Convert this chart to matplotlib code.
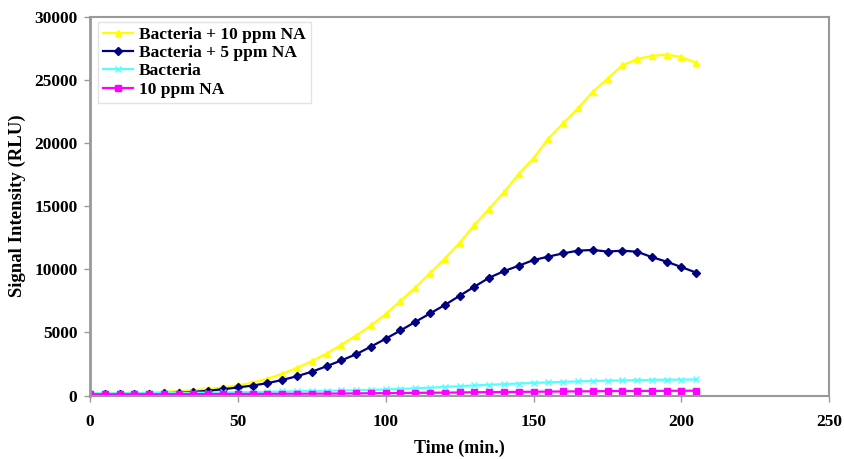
import matplotlib.pyplot as plt
import numpy as np

time_min = np.arange(0, 210, 5)

bacteria_10ppm = [150, 160, 180, 200, 240, 290, 360, 430, 520, 650, 800, 1030, 1330,
                  1720, 2200, 2720, 3320, 4020, 4750, 5550, 6450, 7500, 8550, 9700,
                  10850, 12100, 13500, 14800, 16100, 17550, 18800, 20350, 21550, 22750,
                  24050, 25100, 26150, 26650, 26900, 27000, 26800, 26350]
bacteria_5ppm = [100, 110, 120, 130, 150, 180, 220, 290, 380, 500, 640, 790, 980,
                 1230, 1530, 1880, 2320, 2780, 3270, 3870, 4500, 5150, 5830, 6500,
                 7170, 7900, 8620, 9330, 9850, 10280, 10730, 11000, 11260, 11470,
                 11530, 11400, 11470, 11390, 10960, 10600, 10170, 9730]
bacteria = [170, 170, 180, 180, 190, 200, 210, 220, 230, 240, 260, 280, 300, 320,
            340, 360, 380, 400, 420, 450, 480, 520, 570, 620, 680, 740, 800, 850,
            900, 950, 1000, 1040, 1080, 1120, 1150, 1180, 1200, 1220, 1240, 1250,
            1260, 1270]
na_10ppm = [100, 100, 100, 100, 100, 100, 110, 110, 110, 120, 120, 130, 130, 140,
            140, 150, 150, 160, 170, 180, 190, 200, 210, 220, 230, 240, 260, 270,
            280, 290, 300, 310, 320, 330, 340, 350, 360, 360, 370, 370, 380, 380]

series_labels = ['Bacteria + 10 ppm NA', 'Bacteria + 5 ppm NA', 'Bacteria', '10 ppm NA']

fig = plt.figure(figsize=(8.44, 4.59), dpi=100)
ax = fig.add_axes([0.1066, 0.1383, 0.876, 0.8253])

font = dict(family='Liberation Serif', weight='bold')

ax.plot(time_min, bacteria_10ppm, color='#ffff00', marker='^', markersize=5,
        linewidth=1.6, label=series_labels[0])
ax.plot(time_min, bacteria_5ppm, color='#000080', marker='D', markersize=4,
        linewidth=1.6, label=series_labels[1])
ax.plot(time_min, bacteria, color='#55ffff', marker='x', markersize=4,
        markeredgewidth=1, linewidth=1.6, label=series_labels[2])
ax.plot(time_min, na_10ppm, color='#ff00ff', marker='s', markersize=4.5,
        linewidth=1.6, label=series_labels[3])

ax.set_xlim(0, 250)
ax.set_ylim(0, 30000)
ax.set_xticks(np.arange(0, 251, 50))
ax.set_yticks(np.arange(0, 30001, 5000))

for side in ['left', 'bottom', 'top', 'right']:
    ax.spines[side].set_color('#999999')
ax.spines['left'].set_linewidth(2)
ax.spines['bottom'].set_linewidth(1.5)
ax.spines['top'].set_linewidth(1.5)
ax.spines['right'].set_linewidth(1.5)
ax.tick_params(axis='both', colors='#999999', length=4, width=1, labelcolor='black')
ax.tick_params(axis='x', pad=9)
ax.tick_params(axis='y', pad=5)

for lbl in ax.get_xticklabels() + ax.get_yticklabels():
    lbl.set_fontfamily('Liberation Serif')
    lbl.set_fontweight('bold')
    lbl.set_fontsize(12.5)

ax.set_xlabel('Time (min.)', fontsize=13, labelpad=7, **font)
ax.set_ylabel('Signal Intensity (RLU)', fontsize=13.5, labelpad=6, **font)

leg = ax.legend(loc='upper left', bbox_to_anchor=(0.011, 0.987), frameon=True,
                fancybox=False, edgecolor='#dddddd', handlelength=1.7,
                borderpad=0.3, labelspacing=0.12, handletextpad=0.35,
                borderaxespad=0,
                prop=dict(family='Liberation Serif', weight='bold', size=12.5))
leg.get_frame().set_linewidth(1)

fig.savefig('out.png', dpi=100)
